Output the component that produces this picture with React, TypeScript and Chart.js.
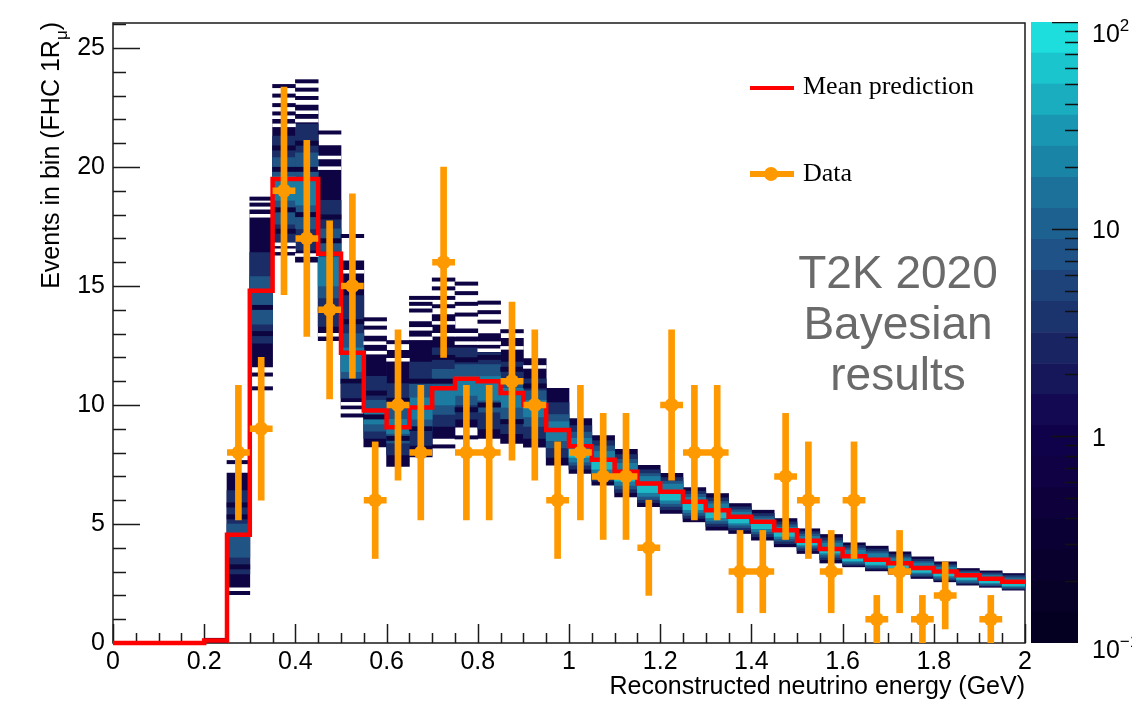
import React, { useEffect, useRef } from 'react';
import { Chart, registerables } from 'chart.js';

Chart.register(...registerables);

const _ = null;

// Bin edges of the reconstructed energy histogram (GeV)
const binEdges = [0, 0.05, 0.1, 0.15, 0.2, 0.25, 0.3, 0.35, 0.4, 0.45, 0.5, 0.55, 0.6, 0.65, 0.7, 0.75, 0.8, 0.85, 0.9, 0.95, 1.0, 1.05, 1.1, 1.15, 1.2, 1.25, 1.3, 1.35, 1.4, 1.45, 1.5, 1.55, 1.6, 1.65, 1.7, 1.75, 1.8, 1.85, 1.9, 1.95, 2.0];

// Mean prediction (red step line), one value per bin
const meanPrediction = [0, 0, 0, 0, 0.1, 4.55, 14.8, 19.5, 19.5, 16.35, 12.2, 9.77, 9.07, 9.9, 10.7, 11.1, 11.0, 10.5, 10.0, 8.95, 8.27, 7.7, 7.2, 6.7, 6.35, 5.93, 5.58, 5.3, 5.09, 4.74, 4.3, 3.95, 3.65, 3.5, 3.35, 3.15, 3.0, 2.85, 2.7, 2.57];

// Posterior predictive density bands per bin (low / high edge of each density level)
const outerLo = [_, _, _, _, 0, 2.35, 11.6, 16.3, 16.0, 12.7, 9.84, 8.24, 7.42, 7.82, 8.6, 9.07, 8.6, 8.39, 8.23, 7.47, 7.12, 6.63, 6.14, 5.73, 5.44, 5.09, 4.74, 4.6, 4.32, 4.04, 3.76, 3.36, 3.2, 3.03, 2.89, 2.71, 2.57, 2.43, 2.34, 2.22];
const outerHi = [_, _, _, _, 0.2, 7.14, 18.2, 22.0, 22.6, 20.9, 16.06, 12.9, 12.3, 13.5, 13.8, 13.2, 13.0, 12.8, 11.95, 10.7, 9.43, 8.72, 8.14, 7.47, 7.13, 6.53, 6.28, 5.86, 5.58, 5.23, 4.8, 4.56, 4.21, 4.07, 3.83, 3.62, 3.41, 3.13, 3.03, 2.92];
const midLo = [_, _, _, _, _, 2.9, 12.6, 16.8, 16.5, 13.3, 10.3, 8.6, 7.9, 8.3, 9.1, 9.4, 9.0, 8.8, 8.6, 7.8, 7.3, 6.8, 6.32, 5.9, 5.6, 5.24, 4.9, 4.74, 4.46, 4.17, 3.88, 3.5, 3.26, 3.1, 2.95, 2.78, 2.63, 2.48, 2.39, 2.26];
const midHi = [_, _, _, _, _, 6.4, 16.4, 21.3, 21.8, 18.6, 14.6, 11.2, 10.9, 11.8, 12.4, 12.4, 12.2, 11.8, 11.1, 10.1, 9.14, 8.5, 7.92, 7.28, 6.95, 6.38, 6.1, 5.72, 5.44, 5.09, 4.68, 4.42, 4.1, 3.95, 3.72, 3.52, 3.32, 3.05, 2.96, 2.85];
const coreLo = [_, _, _, _, _, 3.6, 13.4, 17.6, 17.4, 14.5, 10.9, 8.9, 8.4, 8.9, 9.6, 10.0, 9.7, 9.4, 9.1, 8.2, 7.47, 6.95, 6.47, 6.03, 5.74, 5.36, 5.02, 4.85, 4.58, 4.28, 3.98, 3.6, 3.32, 3.16, 3.0, 2.84, 2.68, 2.53, 2.42, 2.3];
const coreHi = [_, _, _, _, _, 5.0, 15.4, 20.4, 20.6, 17.4, 13.0, 10.2, 9.9, 10.9, 11.5, 11.7, 11.7, 11.1, 10.6, 9.6, 8.86, 8.28, 7.72, 7.12, 6.8, 6.25, 5.95, 5.6, 5.32, 4.97, 4.58, 4.3, 3.99, 3.84, 3.62, 3.43, 3.25, 2.99, 2.9, 2.78];
const tealLo = [_, _, _, _, _, _, _, 18.6, 18.4, 15.0, 11.4, 9.2, 8.8, 9.4, 10.0, 10.4, 10.2, 9.9, 9.5, 8.5, 7.6, 7.1, 6.62, 6.16, 5.86, 5.48, 5.13, 4.95, 4.68, 4.38, 4.06, 3.7, 3.4, 3.24, 3.08, 2.92, 2.76, 2.6, 2.48, 2.36];
const tealHi = [_, _, _, _, _, _, _, 19.6, 19.4, 16.2, 12.4, 9.8, 9.4, 10.3, 10.8, 11.2, 11.2, 10.7, 10.2, 9.3, 8.6, 8.05, 7.55, 7.0, 6.68, 6.12, 5.85, 5.5, 5.22, 4.86, 4.48, 4.2, 3.9, 3.76, 3.55, 3.36, 3.18, 2.94, 2.84, 2.7];
const cyanLo = [_, _, _, _, _, _, _, _, _, _, _, _, _, _, _, _, _, _, _, _, 7.8, 7.3, 6.8, 6.32, 6.0, 5.6, 5.26, 5.04, 4.8, 4.48, 4.12, 3.78, 3.45, 3.3, 3.15, 2.97, 2.82, 2.67, 2.53, 2.4];
const cyanHi = [_, _, _, _, _, _, _, _, _, _, _, _, _, _, _, _, _, _, _, _, 8.15, 7.6, 7.1, 6.6, 6.25, 5.84, 5.5, 5.22, 5.0, 4.66, 4.24, 3.9, 3.58, 3.43, 3.28, 3.08, 2.93, 2.78, 2.63, 2.5];

// Isolated sparse rows of the predictive distribution (bin centre, events)
const tailX = [0.275, 0.275, 0.325, 0.325, 0.325, 0.325, 0.375, 0.375, 0.375, 0.375, 0.425, 0.425, 0.425, 0.475, 0.525, 0.525, 0.575, 0.575, 0.625, 0.675, 0.675, 0.675, 0.725, 0.725, 0.725, 0.725, 0.725, 0.775, 0.775, 0.775, 0.775, 0.775, 0.825, 0.825, 0.825, 0.875];
const tailY = [7.6, 2.1, 18.67, 18.42, 11.28, 10.7, 23.4, 23.0, 22.6, 22.25, 23.6, 23.25, 22.9, 21.45, 17.1, 9.56, 13.6, 13.25, 12.64, 14.5, 14.25, 13.97, 15.27, 14.9, 14.5, 14.15, 8.26, 15.1, 14.7, 14.25, 13.8, 8.64, 14.3, 13.9, 13.5, 13.1];

// Empty rows inside the sparse upper parts (bin centre, events)
const gapX = [0.325, 0.375, 0.375, 0.375, 0.425, 0.425, 0.425, 0.475, 0.475, 0.475, 0.525, 0.525, 0.575, 0.575, 0.625, 0.675, 0.675, 0.725, 0.725, 0.775, 0.775, 0.825, 0.825, 0.875, 0.925];
const gapY = [17.95, 21.75, 16.75, 16.5, 22.3, 21.95, 16.3, 20.4, 19.95, 12.95, 15.6, 10.05, 12.6, 12.2, 11.9, 13.2, 12.8, 13.45, 12.95, 12.95, 12.6, 12.6, 12.3, 12.4, 11.6];

// Dark streak rows inside the blue body (bin centre, events)
const streakX = [0.275, 0.275, 0.275, 0.325, 0.325, 0.375, 0.375, 0.375, 0.375, 0.425, 0.425, 0.425, 0.425, 0.475, 0.475, 0.475, 0.525, 0.525, 0.575, 0.575, 0.625, 0.625, 0.675, 0.675, 0.725, 0.725, 0.775, 0.775, 0.825, 0.825, 0.875, 0.875, 0.925];
const streakY = [5.8, 5.3, 3.2, 14.1, 13.0, 20.8, 19.9, 18.2, 17.3, 21.0, 19.9, 18.0, 17.0, 17.9, 16.9, 14.0, 13.5, 11.0, 10.5, 9.5, 10.2, 8.6, 11.0, 9.0, 12.0, 11.0, 11.9, 9.8, 12.0, 10.0, 11.5, 9.3, 10.8];

// Observed data
const dataX = [0.275, 0.325, 0.375, 0.425, 0.475, 0.525, 0.575, 0.625, 0.675, 0.725, 0.775, 0.825, 0.875, 0.925, 0.975, 1.025, 1.075, 1.125, 1.175, 1.225, 1.275, 1.325, 1.375, 1.425, 1.475, 1.525, 1.575, 1.625, 1.675, 1.725, 1.775, 1.825, 1.925];
const dataY = [8, 9, 19, 17, 14, 15, 6, 10, 8, 16, 8, 8, 11, 10, 6, 8, 7, 7, 4, 10, 8, 8, 3, 3, 7, 6, 3, 6, 1, 3, 1, 2, 1];
const dataErr = [2.83, 3.0, 4.36, 4.12, 3.74, 3.87, 2.45, 3.16, 2.83, 4.0, 2.83, 2.83, 3.32, 3.16, 2.45, 2.83, 2.65, 2.65, 2.0, 3.16, 2.83, 2.83, 1.73, 1.73, 2.65, 2.45, 1.73, 2.45, 1.0, 1.73, 1.0, 1.41, 1.0];

// Axis ticks
const xTickValues = [0, 0.2, 0.4, 0.6, 0.8, 1, 1.2, 1.4, 1.6, 1.8, 2];
const xTickLabels = ['0', '0.2', '0.4', '0.6', '0.8', '1', '1.2', '1.4', '1.6', '1.8', '2'];
const yTickValues = [0, 5, 10, 15, 20, 25];
const yTickLabels = ['0', '5', '10', '15', '20', '25'];

// Colour palette (log z scale, 20 contour levels)
const colorLevels = [0.1, 0.1413, 0.1995, 0.2818, 0.3981, 0.5623, 0.7943, 1.122, 1.585, 2.239, 3.162, 4.467, 6.31, 8.913, 12.59, 17.78, 25.12, 35.48, 50.12, 70.79, 100];
const paletteColors = ['#040022', '#070027', '#0a002d', '#0b0034', '#0d003b', '#0f0143', '#10024a', '#120952', '#15175a', '#182562', '#1b346e', '#1e437b', '#1f5286', '#1d6190', '#1b719a', '#1a84a6', '#1997b2', '#1aacbf', '#1bc5ce', '#1ddddd'];
const cbMajorTicks = [0.1, 1, 10, 100];
const cbMinorTicks = [0.2, 0.3, 0.4, 0.5, 0.6, 0.7, 0.8, 0.9, 2, 3, 4, 5, 6, 7, 8, 9, 20, 30, 40, 50, 60, 70, 80, 90];

const SANS = "'Liberation Sans', Arial, Helvetica, sans-serif";
const SERIF = "'Liberation Serif', 'Times New Roman', serif";
const ORANGE = '#ff9900';

const bandColors = {
  outer: '#0e0444',
  mid: '#1a2d66',
  core: '#1f5485',
  teal: '#1b7ba0',
  cyan: '#1cb9c6',
  streak: '#0d0540',
};

function round3(v: number) {
  return Math.round(v * 1000) / 1000;
}

function centre(i: number) {
  return round3((binEdges[i] + binEdges[i + 1]) / 2);
}

function band(lo: (number | null)[], hi: (number | null)[]) {
  const out: any[] = [];
  for (let i = 0; i < lo.length; i++) {
    const a = lo[i];
    const b = hi[i];
    if (a === null || b === null) continue;
    out.push({ x: centre(i), y: [a, b] });
  }
  return out;
}

function rows(xs: number[], ys: number[], half: number) {
  return xs.map((x, i) => ({ x, y: [ys[i] - half, ys[i] + half] }));
}

function barSet(data: any[], color: string, order: number) {
  return {
    type: 'bar',
    data,
    backgroundColor: color,
    borderWidth: 0,
    barPercentage: 1,
    categoryPercentage: 1,
    grouped: false,
    order,
  };
}

const frameTicksPlugin = {
  id: 'frameTicks',
  beforeDatasetsDraw(chart: any) {
    const { ctx, chartArea, scales } = chart;
    const { left, right, top, bottom } = chartArea;
    const x = scales.x;
    const y = scales.y;
    ctx.save();
    ctx.strokeStyle = '#1a1a1a';
    ctx.lineWidth = 1.5;
    ctx.strokeRect(left, top, right - left, bottom - top);
    ctx.beginPath();
    for (let k = 0; k <= 40; k++) {
      const v = k * 0.05;
      const px = Math.round(x.getPixelForValue(v)) + 0.5;
      const len = k % 4 === 0 ? 19 : 10;
      ctx.moveTo(px, bottom);
      ctx.lineTo(px, bottom - len);
    }
    for (let k = 0; k <= 26; k++) {
      const py = Math.round(y.getPixelForValue(k)) + 0.5;
      const len = k % 5 === 0 ? 27 : 13;
      ctx.moveTo(left, py);
      ctx.lineTo(left + len, py);
    }
    ctx.stroke();
    ctx.restore();
  },
};

const cbTicksPlugin = {
  id: 'cbTicks',
  afterDatasetsDraw(chart: any) {
    const { ctx, chartArea, scales } = chart;
    const y = scales.y;
    const right = chartArea.right;
    ctx.save();
    ctx.strokeStyle = '#111';
    ctx.lineWidth = 1.5;
    ctx.beginPath();
    cbMajorTicks.forEach((v) => {
      const py = Math.round(y.getPixelForValue(v)) + 0.5;
      ctx.moveTo(right, py);
      ctx.lineTo(right - 26, py);
    });
    cbMinorTicks.forEach((v) => {
      const py = Math.round(y.getPixelForValue(v)) + 0.5;
      ctx.moveTo(right, py);
      ctx.lineTo(right - 13, py);
    });
    ctx.stroke();
    ctx.restore();
  },
};

export default function App() {
  const mainRef = useRef<HTMLCanvasElement>(null);
  const cbRef = useRef<HTMLCanvasElement>(null);

  useEffect(() => {
    const stepData = binEdges.map((e, i) => ({ x: e, y: i < meanPrediction.length ? meanPrediction[i] : meanPrediction[meanPrediction.length - 1] }));
    const errV = dataX.map((x, i) => ({ x, y: [dataY[i] - dataErr[i], dataY[i] + dataErr[i]] }));
    const errH: any[] = [];
    dataX.forEach((x, i) => {
      errH.push({ x: x - 0.025, y: dataY[i] });
      errH.push({ x: x + 0.025, y: dataY[i] });
      errH.push({ x: x + 0.025, y: null });
    });
    const markers = dataX.map((x, i) => ({ x, y: dataY[i] }));

    const main = new Chart(mainRef.current as HTMLCanvasElement, {
      type: 'bar',
      data: {
        datasets: [
          barSet(band(outerLo, outerHi), bandColors.outer, 12),
          barSet(band(midLo, midHi), bandColors.mid, 11),
          barSet(band(coreLo, coreHi), bandColors.core, 10),
          barSet(band(tealLo, tealHi), bandColors.teal, 9),
          barSet(band(cyanLo, cyanHi), bandColors.cyan, 8),
          barSet(rows(streakX, streakY, 0.09), bandColors.streak, 7),
          barSet(rows(gapX, gapY, 0.06), '#ffffff', 6),
          barSet(rows(tailX, tailY, 0.07), bandColors.outer, 5),
          {
            type: 'line',
            label: 'Mean prediction',
            data: stepData,
            stepped: 'before',
            borderColor: '#ff0000',
            borderWidth: 4.5,
            pointRadius: 0,
            fill: false,
            clip: 4,
            order: 3,
          },
          {
            type: 'bar',
            data: errV,
            backgroundColor: ORANGE,
            borderWidth: 0,
            barThickness: 6,
            grouped: false,
            order: 2,
          },
          {
            type: 'line',
            data: errH,
            borderColor: ORANGE,
            borderWidth: 6.5,
            borderCapStyle: 'butt',
            pointRadius: 0,
            spanGaps: false,
            fill: false,
            order: 1,
          },
          {
            type: 'scatter',
            label: 'Data',
            data: markers,
            pointRadius: 7,
            pointStyle: 'circle',
            backgroundColor: ORANGE,
            borderWidth: 0,
            order: 0,
          },
        ] as any,
      },
      options: {
        animation: false,
        responsive: false,
        events: [],
        layout: { padding: { left: 0, right: 107, top: 22, bottom: 0 } },
        plugins: { legend: { display: false }, tooltip: { enabled: false } },
        scales: {
          x: {
            type: 'linear',
            min: 0,
            max: 2,
            offset: false,
            grid: { display: false, drawTicks: false },
            border: { display: false },
            afterBuildTicks: (s: any) => {
              s.ticks = xTickValues.map((v) => ({ value: v }));
            },
            afterFit: (s: any) => {
              s.height = 59;
            },
            ticks: {
              autoSkip: false,
              maxRotation: 0,
              padding: 4,
              color: '#000',
              font: { family: SANS, size: 25 },
              callback: (_v: any, i: number) => xTickLabels[i],
            },
            title: {
              display: true,
              text: 'Reconstructed neutrino energy (GeV)',
              align: 'end',
              color: '#000',
              font: { family: SANS, size: 25 },
              padding: { top: 0, bottom: 0 },
            },
          },
          y: {
            type: 'linear',
            min: 0,
            max: 26.05,
            grid: { display: false, drawTicks: false },
            border: { display: false },
            afterBuildTicks: (s: any) => {
              s.ticks = yTickValues.map((v) => ({ value: v }));
            },
            afterFit: (s: any) => {
              s.width = 113;
            },
            ticks: {
              autoSkip: false,
              padding: 8,
              color: '#000',
              font: { family: SANS, size: 25 },
              callback: (_v: any, i: number) => yTickLabels[i],
            },
          },
        },
      } as any,
      plugins: [frameTicksPlugin],
    });

    const cb = new Chart(cbRef.current as HTMLCanvasElement, {
      type: 'bar',
      data: {
        labels: [''],
        datasets: paletteColors.map((c, k) => ({
          data: [[colorLevels[k], colorLevels[k + 1]]],
          backgroundColor: c,
          borderWidth: 0,
          barPercentage: 1,
          categoryPercentage: 1,
          grouped: false,
        })) as any,
      },
      options: {
        animation: false,
        responsive: false,
        events: [],
        layout: { padding: 0 },
        plugins: { legend: { display: false }, tooltip: { enabled: false } },
        scales: {
          x: { display: false },
          y: { type: 'logarithmic', min: 0.1, max: 100, display: false },
        },
      } as any,
      plugins: [cbTicksPlugin],
    });

    return () => {
      main.destroy();
      cb.destroy();
    };
  }, []);

  const cbLabel = (top: number, main: string, sup?: string) => (
    <div style={{ position: 'absolute', left: 1092, top, fontFamily: SANS, fontSize: 25, lineHeight: '25px', color: '#000', whiteSpace: 'nowrap' }}>
      {main}
      {sup ? <span style={{ fontSize: 17, position: 'relative', top: -11 }}>{sup}</span> : null}
    </div>
  );

  return (
    <div style={{ position: 'absolute', left: 0, top: 0, width: 1132, height: 702, background: '#fff', overflow: 'hidden' }}>
      <canvas ref={mainRef} width={1132} height={702} style={{ position: 'absolute', left: 0, top: 0, width: 1132, height: 702 }} />
      <canvas ref={cbRef} width={47} height={621} style={{ position: 'absolute', left: 1031, top: 22, width: 47, height: 621 }} />

      {/* y axis title */}
      <div
        style={{
          position: 'absolute',
          left: 36,
          top: 322,
          width: 300,
          textAlign: 'right',
          transformOrigin: '0 0',
          transform: 'rotate(-90deg)',
          fontFamily: SANS,
          fontSize: 25,
          lineHeight: '28px',
          whiteSpace: 'nowrap',
          color: '#000',
        }}
      >
        Events in bin (FHC 1R
        <span style={{ fontSize: 17, position: 'relative', top: 8 }}>μ</span>)
      </div>

      {/* legend */}
      <div style={{ position: 'absolute', left: 750, top: 86, width: 44, height: 4, background: '#ff0000' }} />
      <div style={{ position: 'absolute', left: 803, top: 73, fontFamily: SERIF, fontSize: 26, lineHeight: '26px', color: '#000', whiteSpace: 'nowrap' }}>
        Mean prediction
      </div>
      <div style={{ position: 'absolute', left: 750, top: 171, width: 44, height: 6, background: ORANGE }} />
      <div style={{ position: 'absolute', left: 764, top: 167, width: 14, height: 14, borderRadius: 7, background: ORANGE }} />
      <div style={{ position: 'absolute', left: 803, top: 160, fontFamily: SERIF, fontSize: 26, lineHeight: '26px', color: '#000', whiteSpace: 'nowrap' }}>
        Data
      </div>

      {/* annotation */}
      <div
        style={{
          position: 'absolute',
          left: 748,
          top: 247,
          width: 300,
          textAlign: 'center',
          fontFamily: SANS,
          fontSize: 46,
          lineHeight: '51px',
          color: '#6a6a6a',
        }}
      >
        T2K 2020
        <br />
        Bayesian
        <br />
        results
      </div>

      {/* colour bar labels */}
      {cbLabel(21, '10', '2')}
      {cbLabel(217, '10')}
      {cbLabel(425, '1')}
      {cbLabel(637, '10', '−1')}
    </div>
  );
}
